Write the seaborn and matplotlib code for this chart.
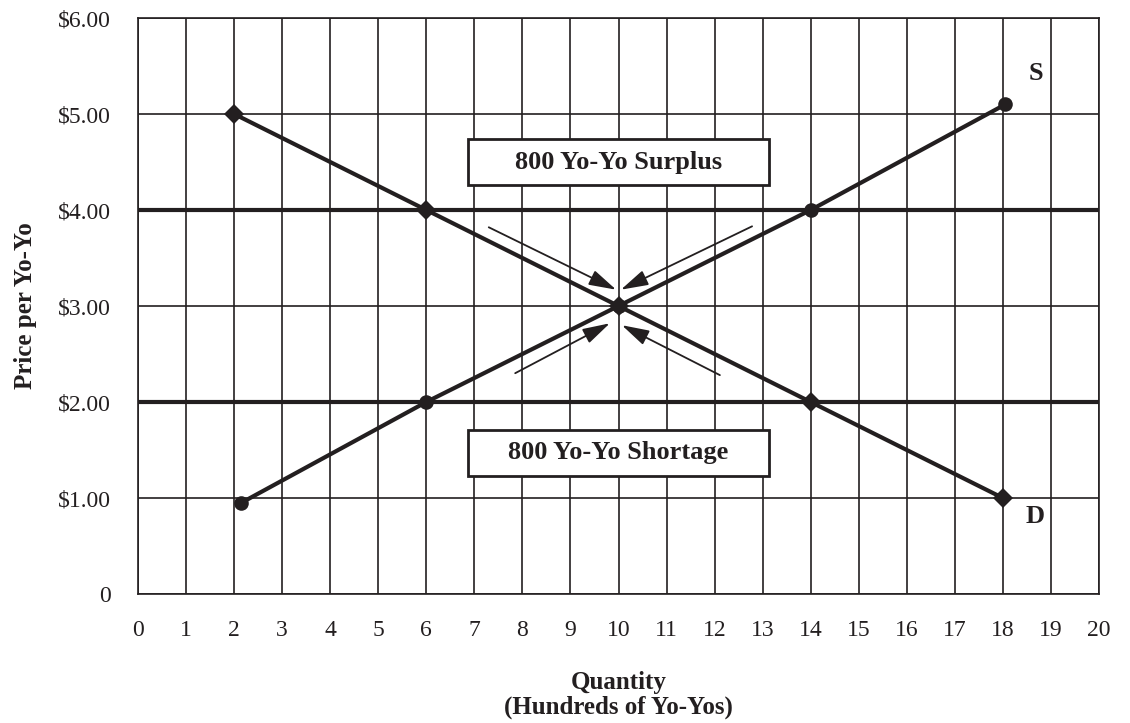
import matplotlib
matplotlib.use("Agg")
import matplotlib.pyplot as plt
from matplotlib.patches import Rectangle
import seaborn as sns
import pandas as pd

# ---- data ----
supply_qty = [2.15, 6, 10, 14, 18.05]
supply_price = [0.95, 2, 3, 4, 5.1]
demand_qty = [2, 6, 10, 14, 18]
demand_price = [5, 4, 3, 2, 1]
price_levels = [2, 4]
x_ticks = list(range(0, 21))
y_ticks = [0, 1, 2, 3, 4, 5, 6]
y_tick_labels = ["0", "$1.00", "$2.00", "$3.00", "$4.00", "$5.00", "$6.00"]
box_labels = ["800 Yo-Yo Surplus", "800 Yo-Yo Shortage"]
box_centers_y = [4.50, 1.47]
# arrows: (start_x, start_y, end_x, end_y)
arrows = [(7.30, 3.82, 9.95, 3.17), (12.78, 3.83, 10.05, 3.17),
          (7.85, 2.30, 9.82, 2.82), (12.11, 2.28, 10.07, 2.80)]

INK = "#231f20"

sns.set_theme(style="white")
plt.rcParams["font.family"] = ["Liberation Serif", "DejaVu Serif"]
plt.rcParams["mathtext.default"] = "regular"

fig = plt.figure(figsize=(11.3, 7.23), dpi=100)
ax = fig.add_axes([138 / 1130, 1 - 594 / 723, (1099 - 138) / 1130, (594 - 18) / 723])

supply_df = pd.DataFrame({"Quantity": supply_qty, "Price": supply_price})
demand_df = pd.DataFrame({"Quantity": demand_qty, "Price": demand_price})

for lvl in price_levels:
    ax.axhline(lvl, color=INK, lw=3.0, zorder=3)

sns.lineplot(data=supply_df, x="Quantity", y="Price", ax=ax, sort=False,
             color=INK, lw=3.0, marker="o", markersize=10.5,
             markeredgewidth=0, zorder=4)
sns.lineplot(data=demand_df, x="Quantity", y="Price", ax=ax, sort=False,
             color=INK, lw=3.0, marker="D", markersize=10.5,
             markeredgewidth=0, zorder=5)

for (x0, y0, x1, y1) in arrows:
    ax.annotate("", xy=(x1, y1), xytext=(x0, y0),
                arrowprops=dict(arrowstyle="-|>,head_length=1.4,head_width=0.4",
                                color=INK, lw=1.3, shrinkA=0, shrinkB=0),
                zorder=6)

for lbl, cy in zip(box_labels, box_centers_y):
    ax.add_patch(Rectangle((6.87, cy - 0.24), 6.26, 0.48, facecolor="white",
                           edgecolor=INK, lw=2.0, zorder=6))
    ax.text(10, cy, lbl, ha="center", va="center", fontsize=19,
            fontweight="bold", color=INK, zorder=7)

ax.text(18.69, 5.42, "S", ha="center", va="center", fontsize=19,
        fontweight="bold", color=INK)
ax.text(18.67, 0.81, "D", ha="center", va="center", fontsize=19,
        fontweight="bold", color=INK)

ax.set_xlim(0, 20)
ax.set_ylim(0, 6)
ax.set_xticks(x_ticks)
ax.set_xticklabels([str(t) for t in x_ticks])
ax.set_yticks(y_ticks)
ax.set_yticklabels(y_tick_labels)
ax.tick_params(axis="both", length=0, labelsize=17, colors=INK)
ax.tick_params(axis="y", pad=19.5)
ax.tick_params(axis="x", pad=18.5)
ax.grid(True, color=INK, lw=1.2)
ax.set_axisbelow(True)
for sp in ax.spines.values():
    sp.set_color(INK)
    sp.set_linewidth(1.2)

ax.set_xlabel("Quantity\n(Hundreds of Yo-Yos)", fontsize=18, fontweight="bold",
              color=INK, labelpad=22, linespacing=1.1)
ax.set_ylabel("Price per Yo-Yo", fontsize=18, fontweight="bold", color=INK,
              labelpad=15)

fig.savefig("out.png", dpi=100)
